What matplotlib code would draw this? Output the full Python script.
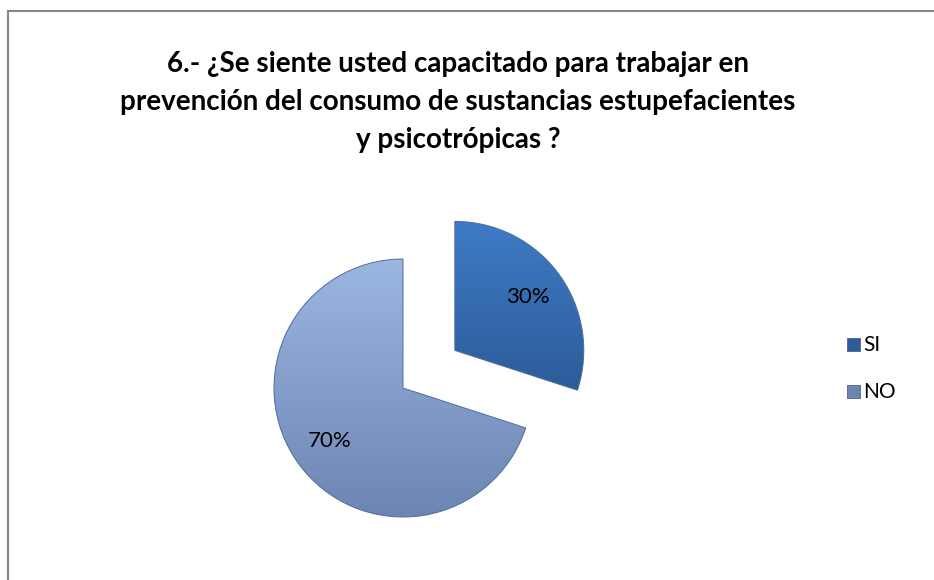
import matplotlib
matplotlib.use('Agg')
import matplotlib.pyplot as plt
import numpy as np
from matplotlib.lines import Line2D
from matplotlib.patches import Rectangle

# data
labels = ["SI", "NO"]
values = [30, 70]
colors_top = ["#3f7bc6", "#9cb6e2"]
colors_bot = ["#2c5c99", "#6c85b2"]

W, H = 934, 580
fig = plt.figure(figsize=(W / 100, H / 100), dpi=100)
ax = fig.add_axes([0, 0, 1, 1])

R = 129
wedges, texts, autotexts = ax.pie(values, radius=R, center=(403, H - 388), startangle=90,
                                  counterclock=False, explode=[64, 0],
                                  autopct="%d%%", pctdistance=0.7,
                                  wedgeprops=dict(edgecolor="#4f6c9c", linewidth=0.7),
                                  textprops=dict(fontsize=16, family="Lato", color="black"))

# vertical gradient inside every wedge
for w, ct, cb in zip(wedges, colors_top, colors_bot):
    bb = w.get_path().get_extents(w.get_patch_transform())
    top = np.array(matplotlib.colors.to_rgb(ct))
    bot = np.array(matplotlib.colors.to_rgb(cb))
    t = np.linspace(0, 1, 256)[:, None]
    grad = (top * (1 - t) + bot * t)[:, None, :]
    im = ax.imshow(grad, extent=[bb.x0, bb.x1, bb.y0, bb.y1], origin="upper",
                   aspect="auto", zorder=0.5)
    im.set_clip_path(w)
    w.set_facecolor("none")
    w.set_zorder(1)

ax.set_xlim(0, W)
ax.set_ylim(0, H)
ax.set_aspect("equal")
ax.axis("off")

# title
fig.text(458 / W, 1 - 102 / H,
         "6.- ¿Se siente usted capacitado para trabajar en\n"
         "prevención del consumo de sustancias estupefacientes\n"
         "y psicotrópicas ?",
         ha="center", va="center", fontsize=20, fontweight="bold",
         family="Lato", linespacing=1.55)

# legend
for i, (lab, ct, cb) in enumerate(zip(labels, colors_top, colors_bot)):
    y = 345 + i * 47
    ax.add_patch(Rectangle((847, H - y - 6), 13, 13, facecolor=cb,
                           edgecolor="#4a648f", linewidth=0.6))
    ax.text(863, H - y, lab, fontsize=15, family="Lato", va="center", ha="left")

# chart border
fig.add_artist(Line2D([8 / W, 8 / W], [0, 1 - 11 / H], color="#868686", linewidth=1.5,
                      transform=fig.transFigure))
fig.add_artist(Line2D([8 / W, 1], [1 - 11 / H, 1 - 11 / H], color="#868686", linewidth=1.5,
                      transform=fig.transFigure))

fig.savefig("out.png", dpi=100)
